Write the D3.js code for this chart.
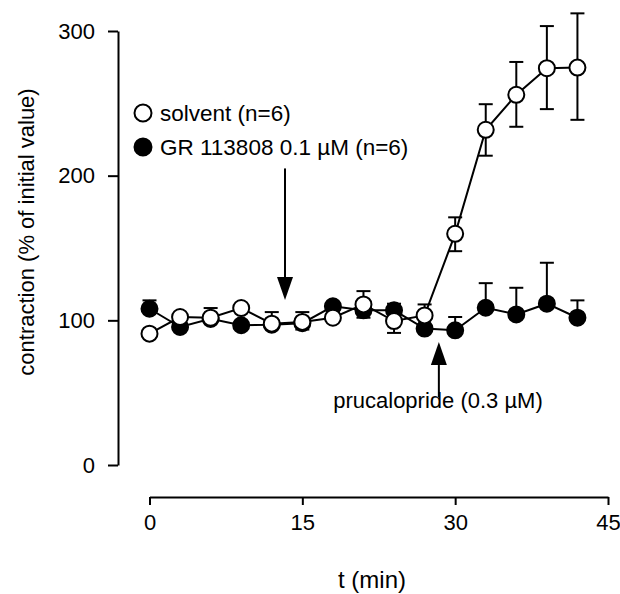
<!DOCTYPE html>
<html>
<head>
<meta charset="utf-8">
<script src="https://cdn.jsdelivr.net/npm/d3@7"></script>
<style>
  body { margin: 0; background: #fff; }
  svg { font-family: "Liberation Sans", Arial, Helvetica, sans-serif; }
</style>
</head>
<body>
<svg width="620" height="594"></svg>
<script>
// time points (min)
var times = [0, 3, 6, 9, 12, 15, 18, 21, 24, 27, 30, 33, 36, 39, 42];

// solvent (open circles)
var solvent     = [90.8, 102.3, 101.8, 108.5, 97.7, 98.9, 101.8, 111, 99.5, 103.4, 159.8, 231.7, 255.9, 274.3, 274.7];
var solventUp   = [null, null, 6.7, null, 8, 6.8, null, 9.2, null, 7.6, 11.4, 17.7, 22.7, 29.1, 37.5];
var solventDown = [null, null, null, null, null, 5.3, null, 9.2, 8.2, null, 12, 17.9, 22.1, 28.3, 36.1];

// GR 113808 (filled circles)
var gr     = [108, 95.4, 101, 96.6, 97, 98, 109.7, 106.9, 106.9, 94.3, 93.1, 108.7, 104.1, 111.5, 101.8];
var grUp   = [5.8, null, null, null, null, null, null, null, 4.6, null, 9.2, 17, 18.4, 28.3, 12];
var grDown = [null, null, null, null, null, null, null, null, null, null, null, null, null, null, null];

var xTicks = [0, 15, 30, 45];
var yTicks = [0, 100, 200, 300];

var svg = d3.select("svg");
var fontSize = 22;

var x = d3.scaleLinear().domain([0, 45]).range([149.5, 608]);
var y = d3.scaleLinear().domain([0, 300]).range([465, 31]);

// axes
var yAxis = svg.append("g")
   .attr("transform", "translate(118,0)")
   .call(d3.axisLeft(y).tickValues(yTicks).tickSize(10).tickSizeOuter(0).tickPadding(13));

var xAxis = svg.append("g")
   .attr("transform", "translate(0,497)")
   .call(d3.axisBottom(x).tickValues(xTicks).tickSize(8).tickSizeOuter(0).tickPadding(9));

[xAxis, yAxis].forEach(function(a){
   a.selectAll("path, line").attr("stroke", "#000").attr("stroke-width", 2);
   a.selectAll("text").attr("font-size", fontSize).attr("fill", "#000")
      .attr("font-family", "Liberation Sans, Arial, sans-serif");
});

// axis titles
svg.append("text")
   .attr("x", 372).attr("y", 588)
   .attr("text-anchor", "middle")
   .attr("font-size", 24)
   .text("t (min)");

svg.append("text")
   .attr("transform", "translate(34,232) rotate(-90)")
   .attr("text-anchor", "middle")
   .attr("font-size", fontSize)
   .text("contraction (% of initial value)");

function drawSeries(vals, up, down, filled) {
   var pts = times.map(function(t, i){
      return {t: t, v: vals[i], up: up[i], down: down[i]};
   });
   var g = svg.append("g");

   // error bars
   pts.forEach(function(d){
      [["up", 1], ["down", -1]].forEach(function(k){
         var e = d[k[0]];
         if (e == null) return;
         var yEnd = y(d.v + k[1] * e);
         g.append("line")
            .attr("x1", x(d.t)).attr("x2", x(d.t))
            .attr("y1", y(d.v)).attr("y2", yEnd)
            .attr("stroke", "#000").attr("stroke-width", 2);
         g.append("line")
            .attr("x1", x(d.t) - 7).attr("x2", x(d.t) + 7)
            .attr("y1", yEnd).attr("y2", yEnd)
            .attr("stroke", "#000").attr("stroke-width", 2);
      });
   });

   var line = d3.line()
      .x(function(d){ return x(d.t); })
      .y(function(d){ return y(d.v); });

   g.append("path")
      .attr("d", line(pts))
      .attr("fill", "none")
      .attr("stroke", "#000")
      .attr("stroke-width", 2);

   g.selectAll("circle")
      .data(pts)
      .enter()
      .append("circle")
      .attr("cx", function(d){ return x(d.t); })
      .attr("cy", function(d){ return y(d.v); })
      .attr("r", 8)
      .attr("fill", filled ? "#000" : "#fff")
      .attr("stroke", "#000")
      .attr("stroke-width", 2);
}

drawSeries(gr, grUp, grDown, true);
drawSeries(solvent, solventUp, solventDown, false);

// arrows
function arrow(t, vFrom, vTo) {
   var x0 = x(t), y0 = y(vFrom), y1 = y(vTo);
   var dir = y1 > y0 ? 1 : -1;
   var headLen = 23, headW = 8;
   svg.append("line")
      .attr("x1", x0).attr("x2", x0)
      .attr("y1", y0).attr("y2", y1 - dir * headLen)
      .attr("stroke", "#000").attr("stroke-width", 2);
   svg.append("path")
      .attr("d", "M" + x0 + "," + y1 +
                 "L" + (x0 - headW) + "," + (y1 - dir * headLen) +
                 "L" + (x0 + headW) + "," + (y1 - dir * headLen) + "Z")
      .attr("fill", "#000");
}
arrow(13.3, 205, 114);
arrow(28.4, 47, 85);

svg.append("text")
   .attr("x", 438).attr("y", 408)
   .attr("text-anchor", "middle")
   .attr("font-size", fontSize)
   .text("prucalopride (0.3 \u00b5M)");

// legend
var legend = [
   {label: "solvent (n=6)", filled: false},
   {label: "GR 113808 0.1 \u00b5M (n=6)", filled: true}
];
legend.forEach(function(d, i){
   var ly = 113 + i * 34;
   svg.append("circle")
      .attr("cx", 143).attr("cy", ly).attr("r", 8.5)
      .attr("fill", d.filled ? "#000" : "#fff")
      .attr("stroke", "#000").attr("stroke-width", 2);
   svg.append("text")
      .attr("x", 160).attr("y", ly + 8)
      .attr("font-size", 22.5)
      .text(d.label);
});
</script>
</body>
</html>
